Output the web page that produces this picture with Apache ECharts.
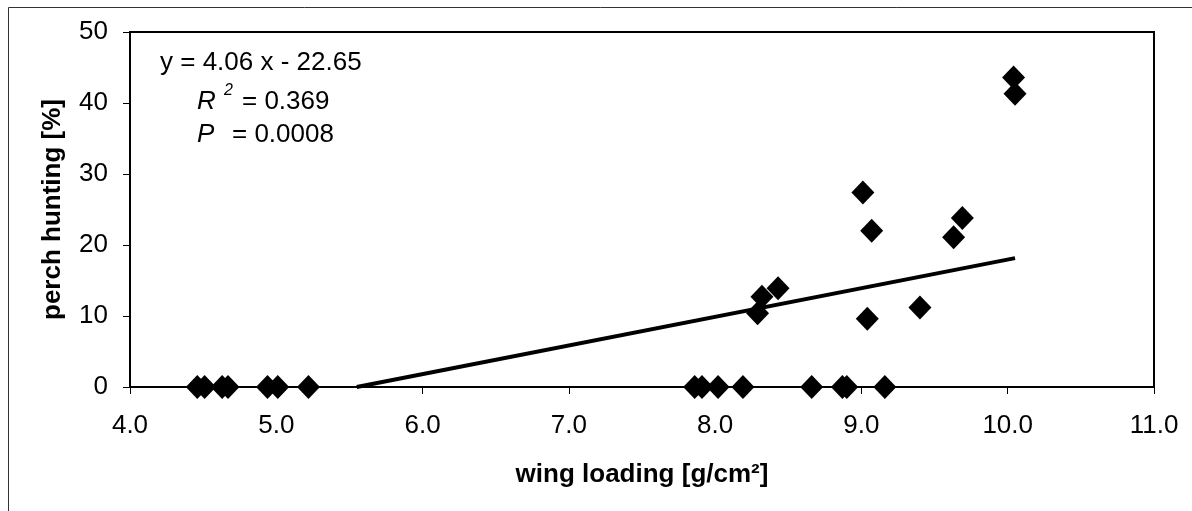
<!DOCTYPE html>
<html>
<head>
<meta charset="utf-8">
<script src="https://cdn.jsdelivr.net/npm/echarts@6/dist/echarts.min.js"></script>
<style>
  html, body { margin: 0; padding: 0; background: #fff; }
  #chart { width: 1192px; height: 511px; }
</style>
</head>
<body>
<div id="chart"></div>
<script>
// wing loading [g/cm²] vs perch hunting [%]
const wingLoading = [
  4.46, 4.51, 4.63, 4.67, 4.94, 5.01, 5.22,
  7.86, 7.91, 8.02, 8.19, 8.66, 8.87, 8.90, 9.16,
  8.29, 8.32, 8.43, 9.04, 9.40,
  9.01, 9.07, 9.63, 9.69, 10.04, 10.05
]
const perchHunting = [
  0, 0, 0, 0, 0, 0, 0,
  0, 0, 0, 0, 0, 0, 0, 0,
  10.4, 12.7, 13.9, 9.6, 11.2,
  27.4, 22.0, 21.1, 23.8, 43.6, 41.3
]
// regression y = 4.06 x - 22.65, drawn from y = 0 to the largest x
const slope = 4.06
const intercept = -22.65
const trendX = [5.55, 10.05]

const xTicks = ['4.0', '5.0', '6.0', '7.0', '8.0', '9.0', '10.0', '11.0']

const points = wingLoading.map((x, i) => [x, perchHunting[i]])
const trend = trendX.map(x => [x, Math.max(0, slope * x + intercept)])

const font = 'Liberation Sans, Arial, sans-serif'
const chart = echarts.init(document.getElementById('chart'))
const options = {
    animation: false,
    backgroundColor: '#fff',
    textStyle: { fontFamily: font, color: '#000' },
    grid: {
        left: 130,
        top: 32,
        right: 38,
        bottom: 124,
        show: true,
        borderColor: '#000',
        borderWidth: 2,
        backgroundColor: '#fff'
    },
    xAxis: {
        type: 'value',
        min: 4,
        max: 11,
        interval: 1,
        name: 'wing loading [g/cm²]',
        nameLocation: 'middle',
        nameGap: 75,
        nameTextStyle: { fontSize: 26, fontWeight: 'bold', color: '#000', fontFamily: font },
        axisLine: { show: true, onZero: false, lineStyle: { color: '#000', width: 2 } },
        axisTick: { show: true, length: 7, lineStyle: { color: '#000', width: 1 } },
        axisLabel: {
            fontSize: 26,
            color: '#000',
            margin: 26,
            fontFamily: font,
            formatter: v => xTicks[Math.round(v - 4)]
        },
        splitLine: { show: false }
    },
    yAxis: {
        type: 'value',
        min: 0,
        max: 50,
        interval: 10,
        name: 'perch hunting [%]',
        nameLocation: 'middle',
        nameGap: 64,
        nameTextStyle: { fontSize: 26, fontWeight: 'bold', color: '#000', fontFamily: font },
        axisLine: { show: true, lineStyle: { color: '#000', width: 2 } },
        axisTick: { show: true, length: 7, lineStyle: { color: '#000', width: 1 } },
        axisLabel: { fontSize: 26, color: '#000', margin: 22, fontFamily: font },
        splitLine: { show: false }
    },
    graphic: [
        {
            type: 'rect',
            silent: true,
            shape: { x: 8.5, y: 7.5, width: 1400, height: 700 },
            style: { fill: null, stroke: '#333', lineWidth: 1 },
            z: -10
        },
        {
            type: 'text', left: 160, top: 50,
            style: { text: 'y = 4.06 x - 22.65', font: '26px ' + font, fill: '#000' }
        },
        {
            type: 'text', left: 197, top: 89,
            style: { text: 'R', font: 'italic 26px ' + font, fill: '#000' }
        },
        {
            type: 'text', left: 224, top: 83,
            style: { text: '2', font: 'italic 16px ' + font, fill: '#000' }
        },
        {
            type: 'text', left: 242, top: 89,
            style: { text: '= 0.369', font: '26px ' + font, fill: '#000' }
        },
        {
            type: 'text', left: 197, top: 122,
            style: { text: 'P', font: 'italic 26px ' + font, fill: '#000' }
        },
        {
            type: 'text', left: 232, top: 122,
            style: { text: '= 0.0008', font: '26px ' + font, fill: '#000' }
        }
    ],
    series: [
        {
            name: 'trend',
            type: 'line',
            data: trend,
            symbol: 'none',
            lineStyle: { color: '#000', width: 4 },
            z: 2
        },
        {
            name: 'species',
            type: 'scatter',
            data: points,
            symbol: 'diamond',
            symbolSize: [23, 24],
            itemStyle: { color: '#000', opacity: 1 },
            z: 3
        }
    ]
}
chart.setOption(options)
</script>
</body>
</html>
